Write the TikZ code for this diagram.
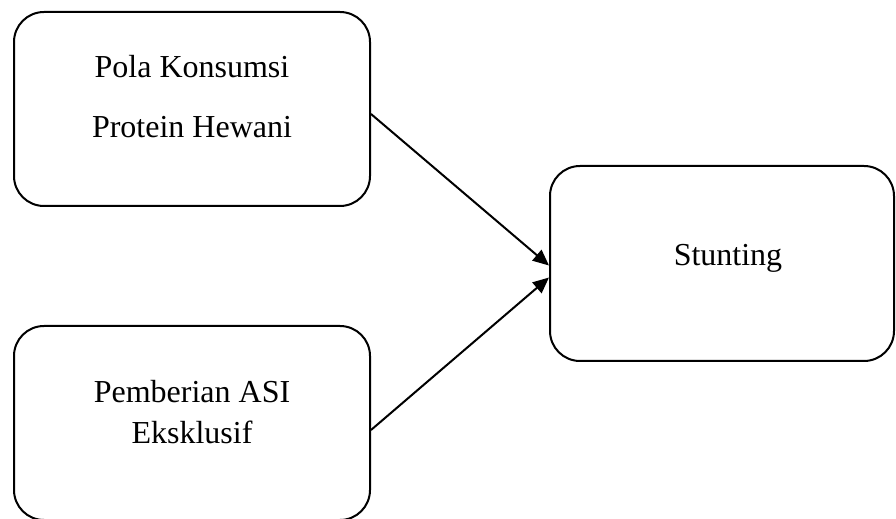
\documentclass[tikz,border=0pt]{standalone}
\usepackage{fontspec}
\setmainfont{Liberation Serif}
\usepackage{tikz}
\usetikzlibrary{arrows.meta}
\usetikzlibrary{positioning}
\tikzset{>={Triangle[length=8pt,width=7pt]}}
\tikzstyle{box} = [rectangle, draw = black, line width = 1pt, rounded corners = 15pt]
\tikzstyle{txt} = [draw = none, align = center, font = \fontsize{16pt}{20.5pt}\selectfont]

\begin{document}
\begin{tikzpicture}[x=0.5pt, y=-0.5pt]
\useasboundingbox (0,0) rectangle (896,519);
\node [box, minimum width = 178pt, minimum height = 97pt] (P) at (192, 109) {};
\node [box, minimum width = 178pt, minimum height = 97pt] (A) at (192, 423) {};
\node [box, minimum width = 172pt, minimum height = 97.5pt] (S) at (722, 263.5) {};
\node [txt] (Pt) at (192, 97) {Pola Konsumsi\\[9.5pt]Protein Hewani};
\node [txt] (At) at (192, 412) {Pemberian ASI\\Eksklusif};
\node [txt] (St) at (728, 258.5) {Stunting};
\draw [->, line width = 1pt] ([yshift=-2.5pt]P.east) -- ([yshift=-1pt]S.west);
\draw [->, line width = 1pt] ([yshift=-3.5pt]A.east) -- ([yshift=-7pt]S.west);
\end{tikzpicture}
\end{document}
